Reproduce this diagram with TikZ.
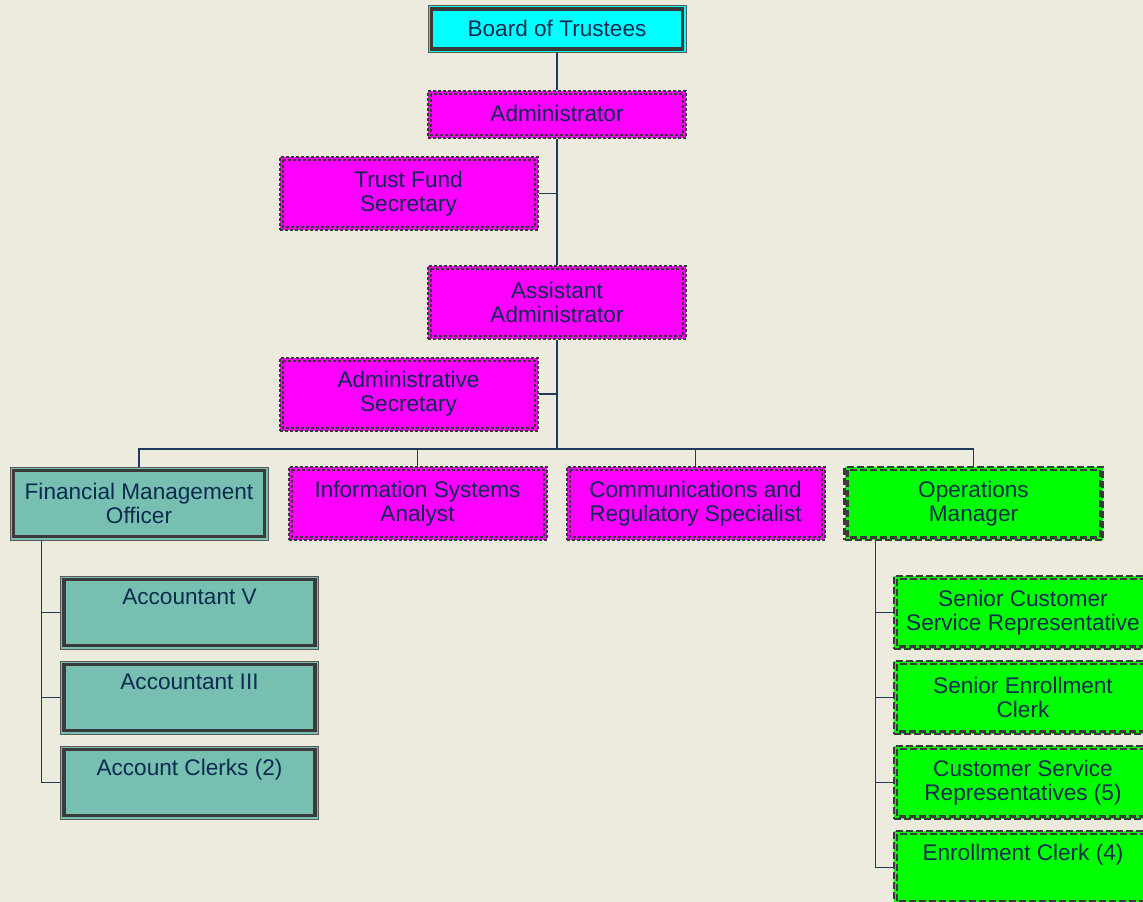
\documentclass[tikz,border=0pt]{standalone}
\usepackage{fontspec}
\setmainfont{Liberation Sans}
\definecolor{bg}{HTML}{ECEBDD}
\definecolor{txt}{HTML}{0D2B50}
\definecolor{ln}{HTML}{1F3A5F}
\definecolor{bd}{HTML}{3A3A3A}
\definecolor{cy}{HTML}{00FFFF}
\definecolor{mg}{HTML}{FF00FF}
\definecolor{tl}{HTML}{76BFB1}
\definecolor{gr}{HTML}{00FF00}
\begin{document}
\begin{tikzpicture}[x=1pt,y=-1pt,
  box/.style={minimum width=258pt, minimum height=73pt, inner sep=0pt, align=center,
    text=txt, font=\fontsize{22.6}{24}\selectfont},
  shortbox/.style={box, minimum height=47pt},
  cybox/.style={fill=cy, draw=gray!70!black, line width=1pt},
  tlbox/.style={fill=tl, draw=gray!70!black, line width=1pt},
  mgbox/.style={fill=mg, draw=bd, line width=2pt, dash pattern=on 3pt off 2pt},
  grbox/.style={fill=gr, draw=bd, line width=2.5pt, dash pattern=on 7pt off 3pt},
  solidin/.style={draw=bd, line width=3.2pt},
  mgin/.style={draw=bd, line width=2pt, dash pattern=on 3pt off 2pt},
  grin/.style={draw=bd, line width=2.5pt, dash pattern=on 7pt off 3pt},
  conn/.style={draw=ln, line width=1.5pt}
]
\clip (0,0) rectangle (1143,902);
\fill[bg] (0,0) rectangle (1143,902);

\newcommand{\innerframe}[2]{\draw[#2] ([shift={(4,4)}]#1.north west) rectangle ([shift={(-4,-4)}]#1.south east);}

% nodes
\node[shortbox, cybox] (board) at (557,29) {\raisebox{2pt}{Board of Trustees}};
\node[shortbox, mgbox] (admin) at (557,114.5) {\raisebox{2pt}{Administrator}};
\node[box, mgbox] (tfs) at (408.5,193.5) {Trust Fund\\Secretary};
\node[box, mgbox] (aa) at (557,302.5) {Assistant\\Administrator};
\node[box, mgbox] (as) at (408.5,394) {Administrative\\Secretary};
\node[box, tlbox] (fmo) at (139,503.5) {Financial Management\\Officer};
\node[box, mgbox] (isa) at (417.5,503.5) {Information Systems\\Analyst};
\node[box, mgbox] (crs) at (695.5,503.5) {Communications and\\Regulatory Specialist};
\node[box, grbox] (ops) at (973.5,503.5) {Operations\\Manager};
\node[box, tlbox] (acc5) at (189.5,612.5) {Accountant V\\\strut};
\node[box, tlbox] (acc3) at (189.5,697.5) {Accountant III\\\strut};
\node[box, tlbox] (clerks) at (189.5,782.5) {Account Clerks (2)\\\strut};
\node[box, grbox] (scsr) at (1023,612.5) {Senior Customer\\Service Representative};
\node[box, grbox] (sec) at (1023,697.5) {Senior Enrollment\\Clerk};
\node[box, grbox] (csr) at (1023,782.5) {Customer Service\\Representatives (5)};
\node[box, grbox] (ec) at (1023,867.5) {Enrollment Clerk (4)\\\strut};

% inner frames
\innerframe{board}{solidin}
\innerframe{admin}{mgin}
\innerframe{tfs}{mgin}
\innerframe{aa}{mgin}
\innerframe{as}{mgin}
\innerframe{isa}{mgin}
\innerframe{crs}{mgin}
\innerframe{fmo}{solidin}
\innerframe{acc5}{solidin}
\innerframe{acc3}{solidin}
\innerframe{clerks}{solidin}
\innerframe{ops}{grin}
\innerframe{scsr}{grin}
\innerframe{sec}{grin}
\innerframe{csr}{grin}
\innerframe{ec}{grin}

% connectors
\coordinate (bus) at (557,449);
\coordinate (fleg) at ([xshift=32pt]fmo.south west);
\coordinate (oleg) at ([xshift=32pt]ops.south west);
\draw[conn] (board.south) -- (admin.north);
\draw[conn] (admin.south) -- (aa.north);
\draw[conn] (tfs.east) -- (tfs.east -| admin.south);
\draw[conn] (aa.south) -- (bus);
\draw[conn] (as.east) -- (as.east -| bus);
\draw[conn] (fmo.north) |- (bus);
\draw[conn] (ops.north) |- (bus);
\draw[conn] (isa.north) -- (isa.north |- bus);
\draw[conn] (crs.north) -- (crs.north |- bus);
\draw[conn] (fleg) |- (clerks.west);
\draw[conn] (acc5.west) -- (acc5.west -| fleg);
\draw[conn] (acc3.west) -- (acc3.west -| fleg);
\draw[conn] (oleg) |- (ec.west);
\draw[conn] (scsr.west) -- (scsr.west -| oleg);
\draw[conn] (sec.west) -- (sec.west -| oleg);
\draw[conn] (csr.west) -- (csr.west -| oleg);
\end{tikzpicture}
\end{document}
